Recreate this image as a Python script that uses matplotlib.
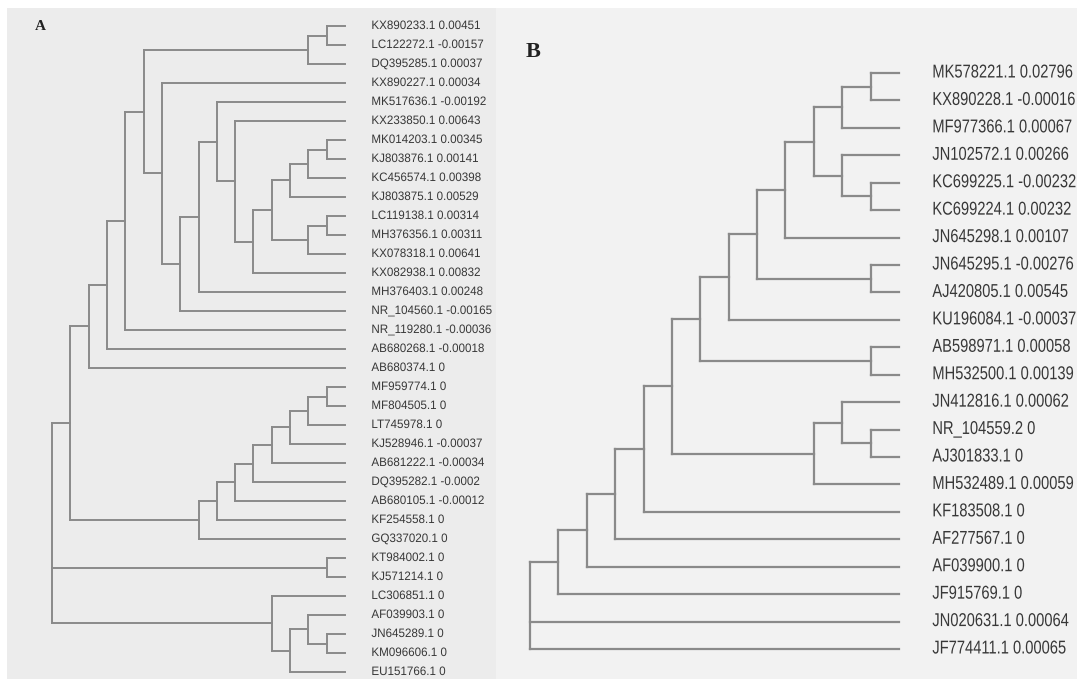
import matplotlib
matplotlib.use("Agg")
import matplotlib.pyplot as plt
from matplotlib.collections import LineCollection
from matplotlib.patches import Rectangle
from matplotlib.patheffects import AbstractPathEffect
from matplotlib.transforms import Affine2D, Bbox, offset_copy
from matplotlib.text import Text

# ---------------- data ----------------
labels_a = [
    "KX890233.1 0.00451", "LC122272.1 -0.00157", "DQ395285.1 0.00037",
    "KX890227.1 0.00034", "MK517636.1 -0.00192", "KX233850.1 0.00643",
    "MK014203.1 0.00345", "KJ803876.1 0.00141", "KC456574.1 0.00398",
    "KJ803875.1 0.00529", "LC119138.1 0.00314", "MH376356.1 0.00311",
    "KX078318.1 0.00641", "KX082938.1 0.00832", "MH376403.1 0.00248",
    "NR_104560.1 -0.00165", "NR_119280.1 -0.00036", "AB680268.1 -0.00018",
    "AB680374.1 0", "MF959774.1 0", "MF804505.1 0", "LT745978.1 0",
    "KJ528946.1 -0.00037", "AB681222.1 -0.00034", "DQ395282.1 -0.0002",
    "AB680105.1 -0.00012", "KF254558.1 0", "GQ337020.1 0", "KT984002.1 0",
    "KJ571214.1 0", "LC306851.1 0", "AF039903.1 0", "JN645289.1 0",
    "KM096606.1 0", "EU151766.1 0",
]
# topology of tree A (leaf indices into labels_a)
tree_a = (
    (
        ((((((0, 1), 2),
            (3, (((4, (5, (((((6, 7), 8), 9), ((10, 11), 12)), 13))), 14), 15))),
           16), 17), 18),
        ((((((((19, 20), 21), 22), 23), 24), 25), 26), 27),
    ),
    (28, 29),
    (30, ((31, (32, 33)), 34)),
)

labels_b = [
    "MK578221.1 0.02796", "KX890228.1 -0.00016", "MF977366.1 0.00067",
    "JN102572.1 0.00266", "KC699225.1 -0.00232", "KC699224.1 0.00232",
    "JN645298.1 0.00107", "JN645295.1 -0.00276", "AJ420805.1 0.00545",
    "KU196084.1 -0.00037", "AB598971.1 0.00058", "MH532500.1 0.00139",
    "JN412816.1 0.00062", "NR_104559.2 0", "AJ301833.1 0",
    "MH532489.1 0.00059", "KF183508.1 0", "AF277567.1 0", "AF039900.1 0",
    "JF915769.1 0", "JN020631.1 0.00064", "JF774411.1 0.00065",
]
# topology of tree B (leaf indices into labels_b)
tree_b = (
    ((((
        ((((((((0, 1), 2), (3, (4, 5))), 6), (7, 8)), 9), (10, 11)),
         ((12, (13, 14)), 15)),
        16), 17), 18), 19),
    20,
    21,
)

panel_letters = ["A", "B"]

# ---------------- helpers ----------------
W, H = 1077, 679
LINE = "#8a8a8a"
TEXT = "#383838"
FONT = ["Liberation Sans", "DejaVu Sans"]


class Condense(AbstractPathEffect):
    """Horizontally condense a left-aligned text about its own origin."""

    def __init__(self, sx):
        super().__init__()
        self.sx = sx

    def draw_path(self, renderer, gc, tpath, affine, rgbFace=None):
        tx = affine.get_matrix()[0, 2]
        aff = affine + Affine2D().translate(-tx, 0).scale(self.sx, 1).translate(tx, 0)
        renderer.draw_path(gc, tpath, aff, rgbFace)


class CondensedText(Text):
    """A real Text whose glyphs (and reported extent) are narrowed by sx."""

    def __init__(self, *args, sx=1.0, **kwargs):
        super().__init__(*args, **kwargs)
        self._sx = sx
        self.set_path_effects([Condense(sx)])

    def get_window_extent(self, renderer=None, dpi=None):
        bb = super().get_window_extent(renderer, dpi)
        return Bbox.from_extents(bb.x0, bb.y0, bb.x0 + (bb.x1 - bb.x0) * self._sx, bb.y1)


def layout(node, segs):
    """Return (height, y) of node; append segments of a right-aligned cladogram."""
    if isinstance(node, int):
        return 0, float(node)
    kids = [layout(c, segs) for c in node]
    h = 1 + max(k[0] for k in kids)
    ys = [k[1] for k in kids]
    segs.append([(-h, min(ys)), (-h, max(ys))])
    for kh, ky in kids:
        segs.append([(-h, ky), (-kh, ky)])
    return h, (min(ys) + max(ys)) / 2.0


def draw_tree(ax, tree, labels, lw, fs, gap_pt, sx):
    segs = []
    h, _ = layout(tree, segs)
    lc = LineCollection(segs, colors=LINE, linewidths=lw, capstyle="projecting",
                        joinstyle="miter", clip_on=False)
    ax.add_collection(lc)
    ax.set_xlim(-h, 0)
    ax.set_ylim(len(labels) - 1, 0)
    trans = offset_copy(ax.transData, fig=ax.figure, x=gap_pt, y=0, units="points")
    for i, lab in enumerate(labels):
        t = CondensedText(0, i, lab, transform=trans, ha="left", va="center",
                          fontsize=fs, color=TEXT, family=FONT, clip_on=False, sx=sx)
        ax.add_artist(t)
    ax.axis("off")


def px_axes(x0, x1, y0, y1):
    return fig.add_axes([x0 / W, 1 - y1 / H, (x1 - x0) / W, (y1 - y0) / H])


fig = plt.figure(figsize=(W / 100, H / 100), dpi=100)
fig.patch.set_facecolor("white")

# panel backgrounds
fig.patches.append(Rectangle((7 / W, 0), (496 - 7) / W, 1 - 8 / H,
                             transform=fig.transFigure, facecolor="#ececec",
                             edgecolor="none", zorder=-10))
fig.patches.append(Rectangle((496 / W, 0), 1 - 496 / W, 1 - 8 / H,
                             transform=fig.transFigure, facecolor="#f2f2f2",
                             edgecolor="none", zorder=-10))

ax_a = px_axes(52, 345, 26, 672)
draw_tree(ax_a, tree_a, labels_a, lw=1.4, fs=8.8, gap_pt=19.0, sx=0.95)

ax_b = px_axes(530, 899, 73, 649)
draw_tree(ax_b, tree_b, labels_b, lw=1.6, fs=13.4, gap_pt=24.0, sx=0.79)

fig.text(40 / W, 1 - 27 / H, panel_letters[0], ha="center", va="center",
         fontsize=11, fontweight="bold", family="Liberation Serif", color="#222222")
fig.text(533 / W, 1 - 52 / H, panel_letters[1], ha="center", va="center",
         fontsize=16, fontweight="bold", family="Liberation Serif", color="#222222")

fig.savefig("out.png", dpi=100, facecolor=fig.get_facecolor())
